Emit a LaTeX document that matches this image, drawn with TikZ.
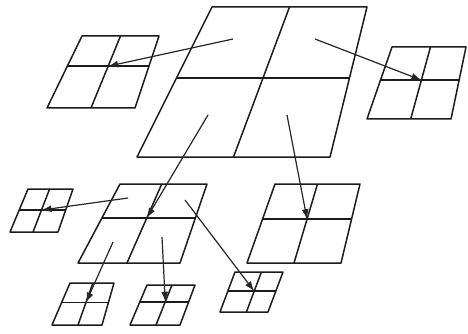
\documentclass[tikz,border=0pt]{standalone}
\usepackage{tikz}
\usepackage{xcolor}
\usetikzlibrary{arrows.meta, calc}
\definecolor{gridInk} {HTML}{1C1C1C}
\definecolor{arrowInk}{HTML}{262626}

\begin{document}
\begin{tikzpicture}[x=1pt, y=-1pt,
    gridline/.style={line width=1.5pt, draw=gridInk, line join=round},
    pointer/.style={-{Latex[length=10pt, width=7pt]}, line width=1.2pt, draw=arrowInk}]
  \useasboundingbox (0,0) rectangle (468,334);
  % each grid: name / corners (top left, top right, bottom right, bottom left) / split down / split across
  \foreach \name/\ptA/\ptB/\ptC/\ptD/\fh/\fv in {
      big/{212,7}/{367,7}/{330,157}/{137,157}/0.473/0.5,
      tl/{82,36}/{159,36}/{135,108}/{47,108}/0.42/0.5,
      rt/{392,47}/{466,47}/{451,119}/{367,119}/0.46/0.52,
      ml/{120,184}/{207,184}/{180,263}/{78,263}/0.43/0.48,
      mr/{275,184}/{360,184}/{341,263}/{247,263}/0.445/0.5,
      lt/{28,189}/{73,189}/{58,232}/{10,232}/0.49/0.48,
      bl/{70,283}/{114,283}/{102,325}/{52,325}/0.465/0.52,
      bm/{147,285}/{195,285}/{180,325}/{130,325}/0.42/0.52,
      br/{235,272}/{283,272}/{268,312}/{220,312}/0.48/0.55}{
    \coordinate (\name-a) at (\ptA);
    \coordinate (\name-b) at (\ptB);
    \coordinate (\name-c) at (\ptC);
    \coordinate (\name-d) at (\ptD);
    \draw[gridline] (\name-a) -- (\name-b) -- (\name-c) -- (\name-d) -- cycle;
    \coordinate (\name-w) at ($(\name-a)!\fh!(\name-d)$);
    \coordinate (\name-e) at ($(\name-b)!\fh!(\name-c)$);
    \coordinate (\name-n) at ($(\name-a)!\fv!(\name-b)$);
    \coordinate (\name-s) at ($(\name-d)!\fv!(\name-c)$);
    \draw[gridline] (\name-w) -- (\name-e);
    \draw[gridline] (\name-n) -- (\name-s);
    \coordinate (\name-mid) at ($(\name-w)!\fv!(\name-e)$);
  }
  % tails of the arrows
  \coordinate (big-1) at (233,39);
  \coordinate (big-2) at (315,39);
  \coordinate (big-3) at (208,115);
  \coordinate (big-4) at (287,115);
  \coordinate (ml-1)  at (128,198);
  \coordinate (ml-2)  at (113,242);
  \coordinate (ml-3)  at (162,237);
  \coordinate (ml-4)  at (185,200);
  \foreach \from/\to in {big-1/tl, big-2/rt, big-3/ml, big-4/mr,
                         ml-1/lt, ml-2/bl, ml-3/bm, ml-4/br}{
    \draw[pointer] (\from) -- (\to-mid);
  }
\end{tikzpicture}
\end{document}
